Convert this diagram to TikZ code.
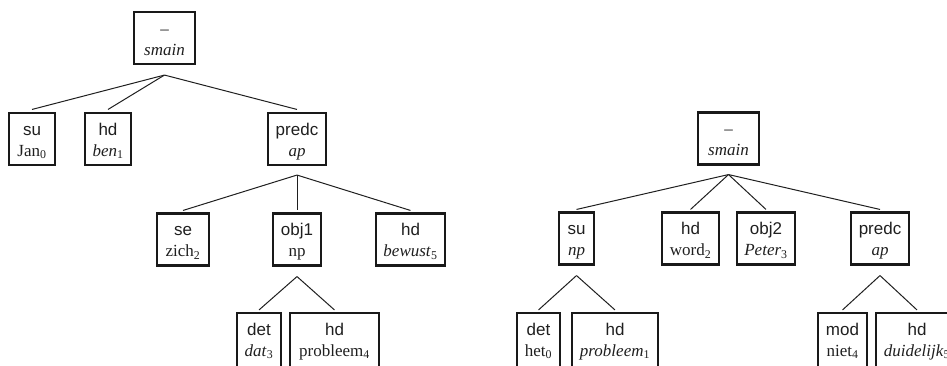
\documentclass[tikz,border=0pt]{standalone}
\usepackage{fontspec}
\setmainfont{Liberation Serif}
\newfontfamily\lsans{Liberation Sans}
\newcommand\bt[3]{#1\rule{0pt}{17pt}\\#2\rule[-#3]{0pt}{#3}}
\newcommand\sub[1]{\textsubscript{\upshape #1}}
\tikzset{
  bx/.style={draw=black!90, line width=2.1pt, rectangle, inner sep=0pt, minimum height=52pt, align=center,
    font=\fontsize{17}{21}\selectfont, text=black!88},
  lf/.style={bx, minimum height=60pt},
  conn/.style={draw=black!88, line width=1pt}
}
\begin{document}
\begin{tikzpicture}[x=1pt,y=-1pt]
\useasboundingbox (0,0) rectangle (947,365);
\clip (0,0) rectangle (947,365);
% left tree
\node[bx, minimum width=61pt] (L) at (164.5,38) {\bt{–}{\textit{smain}}{4pt}};
\node[bx, minimum width=46pt] (Lsu) at (32,139) {\bt{\lsans su}{Jan\sub{0}}{4pt}};
\node[bx, minimum width=46pt] (Lhd) at (108,139) {\bt{\lsans hd}{\textit{ben}\sub{1}}{4pt}};
\node[bx, minimum width=58pt] (Lpr) at (297,139) {\bt{\lsans predc}{\textit{ap}}{4pt}};
\node[bx, minimum width=52pt] (Lse) at (183,239.5) {\bt{\lsans se}{zich\sub{2}}{4pt}};
\node[bx, minimum width=48pt] (Lob) at (297,239.5) {\bt{\lsans obj1}{np}{4pt}};
\node[bx, minimum width=69pt] (Lbe) at (410.5,239.5) {\bt{\lsans hd}{\textit{bewust}\sub{5}}{4pt}};
\node[lf, minimum width=44pt] (Lde) at (259,343) {\bt{\lsans det}{\textit{dat}\sub{3}}{12pt}};
\node[lf, minimum width=89pt] (Lpb) at (334.5,343) {\bt{\lsans hd}{probleem\sub{4}}{12pt}};
\foreach \c in {Lsu,Lhd,Lpr} \draw[conn] ([yshift=-10pt]L.south) -- ([yshift=2.5pt]\c.north);
\foreach \c in {Lse,Lob,Lbe} \draw[conn] ([yshift=-9pt]Lpr.south) -- ([yshift=2pt]\c.north);
\foreach \c in {Lde,Lpb} \draw[conn] ([yshift=-10pt]Lob.south) -- ([yshift=2pt]\c.north);
% right tree
\node[bx, minimum width=61pt] (R) at (728.5,138.5) {\bt{–}{\textit{smain}}{4pt}};
\node[bx, minimum width=35pt] (Rsu) at (576.5,238.5) {\bt{\lsans su}{\textit{np}}{4pt}};
\node[bx, minimum width=57pt] (Rhd) at (690.5,238.5) {\bt{\lsans hd}{word\sub{2}}{4pt}};
\node[bx, minimum width=58pt] (Rob) at (766,238.5) {\bt{\lsans obj2}{\textit{Peter}\sub{3}}{4pt}};
\node[bx, minimum width=58pt] (Rpr) at (880,238.5) {\bt{\lsans predc}{\textit{ap}}{4pt}};
\node[lf, minimum width=43pt] (Rde) at (538.5,343) {\bt{\lsans det}{het\sub{0}}{12pt}};
\node[lf, minimum width=86pt] (Rpb) at (615,343) {\bt{\lsans hd}{\textit{probleem}\sub{1}}{12pt}};
\node[lf, minimum width=49pt] (Rmo) at (842.5,343) {\bt{\lsans mod}{niet\sub{4}}{12pt}};
\node[lf, minimum width=82pt] (Rdu) at (917,343) {\bt{\lsans hd}{\textit{duidelijk}\sub{5}}{12pt}};
\foreach \c in {Rsu,Rhd,Rob,Rpr} \draw[conn] ([yshift=-9pt]R.south) -- ([yshift=2pt]\c.north);
\foreach \c in {Rde,Rpb} \draw[conn] ([yshift=-10pt]Rsu.south) -- ([yshift=2pt]\c.north);
\foreach \c in {Rmo,Rdu} \draw[conn] ([yshift=-10pt]Rpr.south) -- ([yshift=2pt]\c.north);
\end{tikzpicture}
\end{document}
